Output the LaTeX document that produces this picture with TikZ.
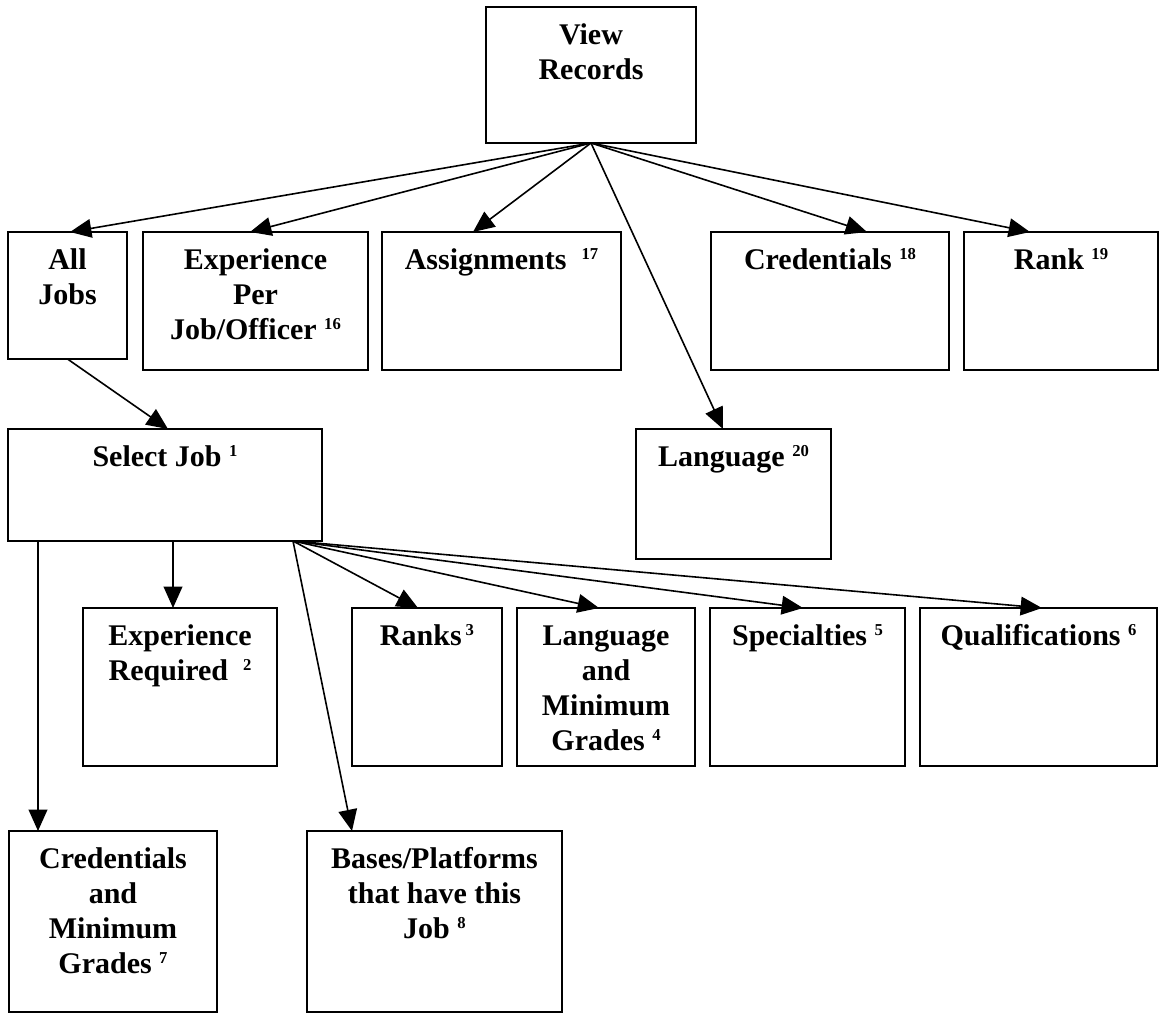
\documentclass[tikz,border=0pt]{standalone}
\usepackage{fontspec}
\setmainfont{Liberation Serif}
\usetikzlibrary{arrows.meta}
% small raised reference numbers after the box titles
\newcommand\supn[1]{\raisebox{7.5pt}{\fontsize{12.5pt}{12.5pt}\selectfont #1}}
% fixed height of the first text line, so every title sits at the same depth
\newcommand\tstrut{\rule{0pt}{20pt}}
\begin{document}
\begin{tikzpicture}[x=0.75pt,y=-0.75pt,
  box/.style={draw, line width=1.5pt, outer sep=0pt, inner sep=0pt, anchor=north west},
  sz/.style 2 args={minimum width=#1*0.75pt, minimum height=#2*0.75pt},
  lbl/.style={anchor=north, align=center, inner sep=0pt, yshift=-7.75pt,
    font=\fontsize{22.5pt}{26.25pt}\selectfont\bfseries},
  link/.style={line width=1.2pt, -{Triangle[length=16pt,width=14pt]}}
]
\useasboundingbox (0,0) rectangle (1159,1013);

% root
\node[box, sz={210}{136}, label={[lbl]north:{\tstrut View\\Records}}] (view) at (486,7) {};

% first level
\node[box, sz={119}{127}, label={[lbl]north:{\tstrut All\\Jobs}}] (alljobs) at (8,232) {};
\node[box, sz={225}{138}, label={[lbl]north:{\tstrut Experience\\Per\\Job/Officer \supn{16}}}] (expper) at (143,232) {};
\node[box, sz={239}{138}, label={[lbl]north:{\tstrut Assignments\ \ \supn{17}}}] (assign) at (382,232) {};
\node[box, sz={238}{138}, label={[lbl]north:{\tstrut Credentials \supn{18}}}] (cred) at (711,232) {};
\node[box, sz={194}{138}, label={[lbl]north:{\tstrut Rank \supn{19}}}] (rank) at (964,232) {};

% second level
\node[box, sz={314}{112}, label={[lbl]north:{\tstrut Select Job \supn{1}}}] (selectjob) at (8,429) {};
\node[box, sz={195}{130}, label={[lbl]north:{\tstrut Language \supn{20}}}] (language) at (636,429) {};

% job details
\node[box, sz={194}{158}, label={[lbl]north:{\tstrut Experience\\Required\ \ \supn{2}}}] (expreq) at (83,608) {};
\node[box, sz={150}{158}, label={[lbl]north:{\tstrut Ranks\kern3pt\supn{3}}}] (ranks) at (352,608) {};
\node[box, sz={178}{158}, label={[lbl]north:{\tstrut Language\\and\\Minimum\\Grades \supn{4}}}] (langmin) at (517,608) {};
\node[box, sz={195}{158}, label={[lbl]north:{\tstrut Specialties \supn{5}}}] (special) at (710,608) {};
\node[box, sz={237}{158}, label={[lbl]north:{\tstrut Qualifications \supn{6}}}] (qualif) at (920,608) {};
\node[box, sz={208}{181}, label={[lbl]north:{\tstrut Credentials\\and\\Minimum\\Grades \supn{7}}}] (credmin) at (9,831) {};
\node[box, sz={255}{181}, label={[lbl]north:{\tstrut Bases/Platforms\\that have this\\Job \supn{8}}}] (bases) at (307,831) {};

% connectors from the root
\draw[link] (view.south) -- ([xshift=62*0.75pt]alljobs.north west);
\draw[link] (view.south) -- ([xshift=107*0.75pt]expper.north west);
\draw[link] (view.south) -- ([xshift=91*0.75pt]assign.north west);
\draw[link] (view.south) -- ([xshift=156*0.75pt]cred.north west);
\draw[link] (view.south) -- ([xshift=66*0.75pt]rank.north west);
\draw[link] (view.south) -- ([xshift=87*0.75pt]language.north west);

\draw[link] (alljobs.south) -- ([xshift=160*0.75pt]selectjob.north west);

% connectors from the job selection
\draw[link] ([xshift=30*0.75pt]selectjob.south west) -- ([xshift=29*0.75pt]credmin.north west);
\draw[link] ([xshift=165*0.75pt]selectjob.south west) -- ([xshift=90*0.75pt]expreq.north west);
\draw[link] ([xshift=-29*0.75pt]selectjob.south east) -- ([xshift=45*0.75pt]bases.north west);
\draw[link] ([xshift=-29*0.75pt]selectjob.south east) -- ([xshift=66*0.75pt]ranks.north west);
\draw[link] ([xshift=-29*0.75pt]selectjob.south east) -- ([xshift=82*0.75pt]langmin.north west);
\draw[link] ([xshift=-29*0.75pt]selectjob.south east) -- ([xshift=93*0.75pt]special.north west);
\draw[link] ([xshift=-29*0.75pt]selectjob.south east) -- ([xshift=122*0.75pt]qualif.north west);
\end{tikzpicture}
\end{document}
